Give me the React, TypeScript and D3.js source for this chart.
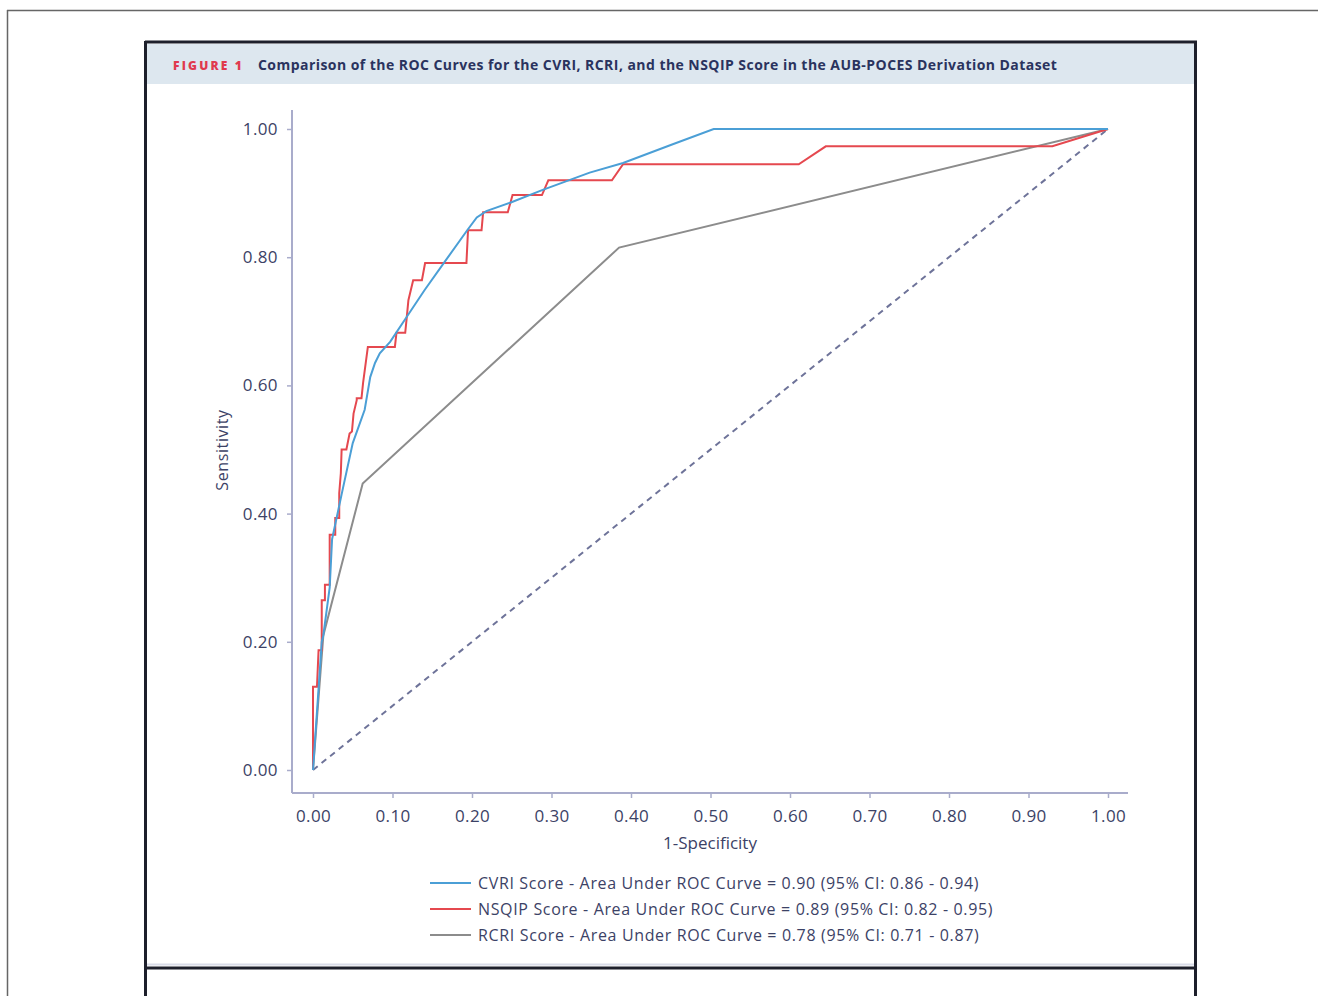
import React, { useRef, useEffect } from 'react';
import * as d3 from 'd3';

// ROC points as [1-specificity, sensitivity]
const cvriPoints: [number, number][] = [
  [0, 0], [0.011, 0.2], [0.013, 0.21], [0.021, 0.285], [0.024, 0.36], [0.036, 0.43],
  [0.05, 0.51], [0.065, 0.562], [0.072, 0.613], [0.078, 0.635], [0.084, 0.65],
  [0.097, 0.668], [0.118, 0.707], [0.14, 0.748], [0.164, 0.79], [0.194, 0.842],
  [0.206, 0.862], [0.218, 0.872], [0.248, 0.885], [0.289, 0.905], [0.348, 0.932],
  [0.39, 0.947], [0.45, 0.975], [0.504, 1.0], [1, 1]
];

const nsqipPoints: [number, number][] = [
  [0, 0], [0, 0.13], [0.005, 0.13], [0.007, 0.187], [0.011, 0.187], [0.011, 0.265],
  [0.015, 0.265], [0.015, 0.289], [0.021, 0.289], [0.021, 0.367], [0.028, 0.367],
  [0.028, 0.393], [0.033, 0.393], [0.033, 0.432], [0.035, 0.463], [0.036, 0.5],
  [0.042, 0.5], [0.046, 0.525], [0.049, 0.528], [0.051, 0.556], [0.055, 0.577],
  [0.055, 0.58], [0.061, 0.58], [0.063, 0.604], [0.069, 0.66], [0.103, 0.66],
  [0.105, 0.682], [0.116, 0.682], [0.118, 0.707], [0.12, 0.733], [0.126, 0.764],
  [0.137, 0.764], [0.141, 0.791], [0.193, 0.791], [0.195, 0.842], [0.212, 0.842],
  [0.214, 0.87], [0.245, 0.87], [0.251, 0.897], [0.288, 0.897], [0.296, 0.92],
  [0.376, 0.92], [0.39, 0.945], [0.611, 0.945], [0.645, 0.973], [0.93, 0.973], [1, 1]
];

const rcriPoints: [number, number][] = [
  [0, 0], [0.013, 0.21], [0.0625, 0.447], [0.385, 0.815], [1, 1]
];

const refPoints: [number, number][] = [[0, 0], [1, 1]];

const tickValues = [0, 0.1, 0.2, 0.3, 0.4, 0.5, 0.6, 0.7, 0.8, 0.9, 1.0];
const yTickValues = [0, 0.2, 0.4, 0.6, 0.8, 1.0];

const legendLabels = [
  'CVRI Score - Area Under ROC Curve = 0.90 (95% CI: 0.86 - 0.94)',
  'NSQIP Score - Area Under ROC Curve = 0.89 (95% CI: 0.82 - 0.95)',
  'RCRI Score - Area Under ROC Curve = 0.78 (95% CI: 0.71 - 0.87)'
];

const titleText =
  'Comparison of the ROC Curves for the CVRI, RCRI, and the NSQIP Score in the AUB-POCES Derivation Dataset';

export default function App() {
  const xAxisRef = useRef<SVGGElement>(null);
  const yAxisRef = useRef<SVGGElement>(null);

  const x = d3.scaleLinear().domain([0, 1]).range([313, 1108]);
  const y = d3.scaleLinear().domain([0, 1]).range([770, 129]);

  const axisColor = '#a9accb';
  const textColor = '#3c4266';
  const font = '"Open Sans", sans-serif';

  useEffect(() => {
    const gx = d3.select(xAxisRef.current);
    gx.selectAll('*').remove();
    gx.call(
      d3.axisBottom(x).tickValues(tickValues).tickFormat(d3.format('.2f')).tickSize(5).tickSizeOuter(0)
    );
    gx.select('.domain').remove();
    gx.selectAll('line').attr('stroke', axisColor).attr('stroke-width', 1.5);
    gx.selectAll('text')
      .attr('fill', textColor)
      .attr('font-size', 17)
      .attr('font-family', font)
      .attr('letter-spacing', 0.4)
      .attr('y', 12)
      .attr('dy', '1em');

    const gy = d3.select(yAxisRef.current);
    gy.selectAll('*').remove();
    gy.call(
      d3.axisLeft(y).tickValues(yTickValues).tickFormat(d3.format('.2f')).tickSize(5).tickSizeOuter(0)
    );
    gy.select('.domain').remove();
    gy.selectAll('line').attr('stroke', axisColor).attr('stroke-width', 1.5);
    gy.selectAll('text')
      .attr('fill', textColor)
      .attr('font-size', 17)
      .attr('font-family', font)
      .attr('letter-spacing', 0.4)
      .attr('x', -14);
  }, []);

  const line = d3
    .line<[number, number]>()
    .x(d => x(d[0]))
    .y(d => y(d[1]));

  const legendColors = ['#4b9fd6', '#e5484f', '#8c8c8c'];

  return (
    <svg
      width={1318}
      height={996}
      style={{ position: 'absolute', left: 0, top: 0, background: '#fff' }}
    >
      {/* outer page frame */}
      <line x1={7} y1={10.5} x2={1318} y2={10.5} stroke="#666" strokeWidth={1.5} />
      <line x1={7.5} y1={10} x2={7.5} y2={996} stroke="#666" strokeWidth={1.5} />

      {/* figure box */}
      <rect x={147} y={44} width={1047} height={40} fill="#dde7ef" />
      <line x1={145} y1={42} x2={1197} y2={42} stroke="#1d1f2b" strokeWidth={3} />
      <line x1={145.5} y1={41} x2={145.5} y2={996} stroke="#1d1f2b" strokeWidth={3} />
      <line x1={1195.5} y1={41} x2={1195.5} y2={996} stroke="#1d1f2b" strokeWidth={3} />
      <line x1={145} y1={968} x2={1197} y2={968} stroke="#1d1f2b" strokeWidth={3} />
      <line x1={147} y1={964.5} x2={1194} y2={964.5} stroke="#d9dce8" strokeWidth={2} />

      <text
        x={173}
        y={70}
        fill="#e03a4e"
        fontFamily={font}
        fontWeight={800}
        fontSize={12}
        letterSpacing={2.2}
      >
        FIGURE 1
      </text>
      <text
        x={258}
        y={70}
        fill="#2a335e"
        fontFamily={font}
        fontWeight={700}
        fontSize={14}
        letterSpacing={0.45}
      >
        {titleText}
      </text>

      {/* axis lines */}
      <line x1={292} y1={110} x2={292} y2={793} stroke={axisColor} strokeWidth={2} />
      <line x1={292} y1={793} x2={1128} y2={793} stroke={axisColor} strokeWidth={2} />
      <g ref={xAxisRef} transform="translate(0,793)" />
      <g ref={yAxisRef} transform="translate(292,0)" />

      {/* reference diagonal */}
      <path
        d={line(refPoints) || ''}
        fill="none"
        stroke="#6e7399"
        strokeWidth={2}
        strokeDasharray="6,5"
      />

      <path d={line(rcriPoints) || ''} fill="none" stroke={legendColors[2]} strokeWidth={2} />
      <path d={line(nsqipPoints) || ''} fill="none" stroke={legendColors[1]} strokeWidth={2} />
      <path d={line(cvriPoints) || ''} fill="none" stroke={legendColors[0]} strokeWidth={2} />

      {/* axis titles */}
      <text x={710} y={849} textAnchor="middle" fill={textColor} fontFamily={font} fontSize={17}>
        1-Specificity
      </text>
      <text
        transform="translate(228,450) rotate(-90)"
        textAnchor="middle"
        fill={textColor}
        fontFamily={font}
        fontSize={16}
        letterSpacing={0.6}
      >
        Sensitivity
      </text>

      {/* legend */}
      {legendLabels.map((label, i) => (
        <g key={label} transform={`translate(430,${883 + i * 26})`}>
          <line x1={0} y1={0} x2={41} y2={0} stroke={legendColors[i]} strokeWidth={2} />
          <text
            x={48}
            y={6}
            fill={textColor}
            fontFamily={font}
            fontSize={16}
            letterSpacing={0.65}
          >
            {label}
          </text>
        </g>
      ))}
    </svg>
  );
}
